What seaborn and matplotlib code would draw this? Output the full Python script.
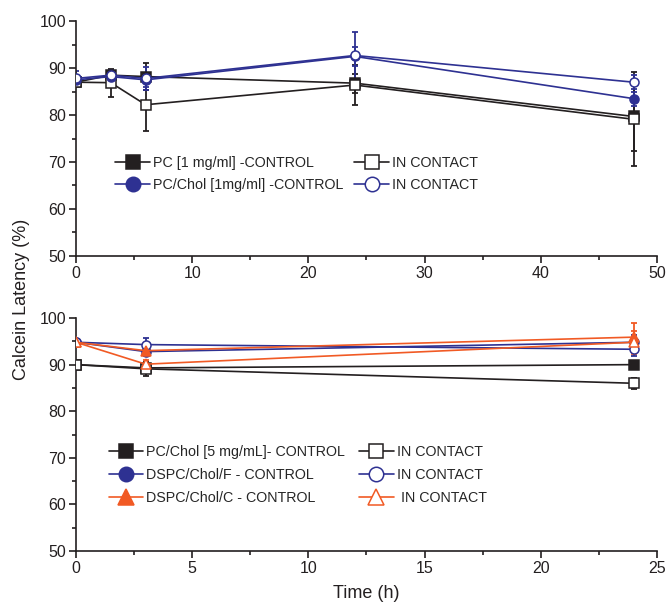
import numpy as np
import pandas as pd
import matplotlib
matplotlib.use("Agg")
import matplotlib.pyplot as plt
import seaborn as sns

# ---- data ----
t_top = [0, 3, 6, 24, 48]
pc_ctrl = [87.0, 88.5, 88.2, 86.8, 79.7]
pc_ctrl_err = [0.5, 1.0, 2.9, 2.0, 7.4]
pc_ic = [87.0, 86.9, 82.2, 86.4, 79.1]
pc_ic_err = [0.5, 3.0, 5.5, 4.2, 10.0]
pcchol_ctrl = [87.5, 88.2, 87.5, 92.5, 83.5]
pcchol_ctrl_err = [1.0, 1.0, 1.5, 2.0, 1.5]
pcchol_ic = [87.8, 88.5, 87.8, 92.7, 87.0]
pcchol_ic_err = [1.5, 1.0, 2.5, 5.0, 1.5]

t_bot = [0, 3, 24]
pc5_ctrl = [90.0, 89.3, 90.0]
pc5_ctrl_err = [0.3, 1.0, 0.8]
pc5_ic = [90.0, 89.1, 86.0]
pc5_ic_err = [0.3, 1.5, 1.2]
dspcf_ctrl = [94.8, 92.8, 94.8]
dspcf_ctrl_err = [0.5, 1.0, 1.5]
dspcf_ic = [94.8, 94.3, 93.3]
dspcf_ic_err = [0.5, 1.5, 1.5]
dspcc_ctrl = [94.8, 93.0, 95.9]
dspcc_ctrl_err = [0.5, 1.0, 3.0]
dspcc_ic = [94.8, 90.1, 94.8]
dspcc_ic_err = [0.5, 0.8, 2.5]

top_labels = ["PC [1 mg/ml] -CONTROL", "IN CONTACT",
              "PC/Chol [1mg/ml] -CONTROL", "IN CONTACT"]
bot_labels = ["PC/Chol [5 mg/mL]- CONTROL", "IN CONTACT",
              "DSPC/Chol/F - CONTROL", "IN CONTACT",
              "DSPC/Chol/C - CONTROL", " IN CONTACT"]

BLACK = "#231f20"
BLUE = "#2e3192"
RED = "#f15a24"

sns.set_style("ticks")
plt.rcParams["font.family"] = ["Liberation Sans", "DejaVu Sans"]
plt.rcParams["xtick.direction"] = "out"
plt.rcParams["ytick.direction"] = "out"

fig = plt.figure(figsize=(6.66, 6.05), dpi=100)
ax1 = fig.add_axes([0.114, 0.577, 0.8724, 0.388])
ax2 = fig.add_axes([0.114, 0.0893, 0.8724, 0.385])


def draw(ax, t, y, err, color, marker, filled, label):
    df = pd.DataFrame({"t": t, "y": y})
    ax.errorbar(t, y, yerr=err, fmt="none", ecolor=color, elinewidth=1.3,
                capsize=2.2, capthick=1.3, zorder=2)
    sns.lineplot(data=df, x="t", y="y", ax=ax, color=color, marker=marker,
                 markersize=6.5 if marker != "^" else 7.5,
                 markerfacecolor=color if filled else "white",
                 markeredgecolor=color, markeredgewidth=1.1,
                 linewidth=1.2, label=label, zorder=3)


series_top = [
    (pc_ctrl, pc_ctrl_err, BLACK, "s", True),
    (pc_ic, pc_ic_err, BLACK, "s", False),
    (pcchol_ctrl, pcchol_ctrl_err, BLUE, "o", True),
    (pcchol_ic, pcchol_ic_err, BLUE, "o", False),
]
for (y, e, c, m, f), lab in zip(series_top, top_labels):
    draw(ax1, t_top, y, e, c, m, f, lab)

series_bot = [
    (pc5_ctrl, pc5_ctrl_err, BLACK, "s", True),
    (pc5_ic, pc5_ic_err, BLACK, "s", False),
    (dspcf_ctrl, dspcf_ctrl_err, BLUE, "o", True),
    (dspcf_ic, dspcf_ic_err, BLUE, "o", False),
    (dspcc_ctrl, dspcc_ctrl_err, RED, "^", True),
    (dspcc_ic, dspcc_ic_err, RED, "^", False),
]
for (y, e, c, m, f), lab in zip(series_bot, bot_labels):
    draw(ax2, t_bot, y, e, c, m, f, lab)

for ax, xmax, xstep in [(ax1, 50, 10), (ax2, 25, 5)]:
    ax.set_xlim(0, xmax)
    ax.set_ylim(50, 100)
    ax.set_xticks(np.arange(0, xmax + 1, xstep))
    ax.set_xticks(np.arange(xstep / 2, xmax, xstep), minor=True)
    ax.set_yticks(np.arange(50, 101, 10))
    ax.set_yticks(np.arange(55, 100, 10), minor=True)
    ax.tick_params(axis="both", which="major", length=5, width=1.2,
                   labelsize=11.5, colors=BLACK, pad=2)
    ax.tick_params(axis="both", which="minor", length=3, width=1.2, colors=BLACK)
    for s in ["left", "bottom"]:
        ax.spines[s].set_linewidth(1.2)
        ax.spines[s].set_color(BLACK)
    sns.despine(ax=ax)
    ax.set_xlabel("")
    ax.set_ylabel("")
    ax.patch.set_alpha(0)

leg_kw = dict(ncol=2, loc="upper left", frameon=False, fontsize=10.3,
              markerscale=1.6, handlelength=2.4, handletextpad=0.2,
              borderaxespad=0)

# legends: two columns (controls | in contact)
h, l = ax1.get_legend_handles_labels()
order = [0, 2, 1, 3]
ax1.legend([h[i] for i in order], [l[i] for i in order],
           bbox_to_anchor=(0.058, 0.45), columnspacing=0.8,
           labelspacing=0.55, **leg_kw)

h, l = ax2.get_legend_handles_labels()
order = [0, 2, 4, 1, 3, 5]
ax2.legend([h[i] for i in order], [l[i] for i in order],
           bbox_to_anchor=(0.047, 0.48), columnspacing=1.0,
           labelspacing=0.62, **leg_kw)

ax2.set_xlabel("Time (h)", fontsize=13, color=BLACK, labelpad=7)
fig.text(0.033, 0.505, "Calcein Latency (%)", rotation=90, ha="center",
         va="center", fontsize=13, color=BLACK)

fig.savefig("out.png", dpi=100)
